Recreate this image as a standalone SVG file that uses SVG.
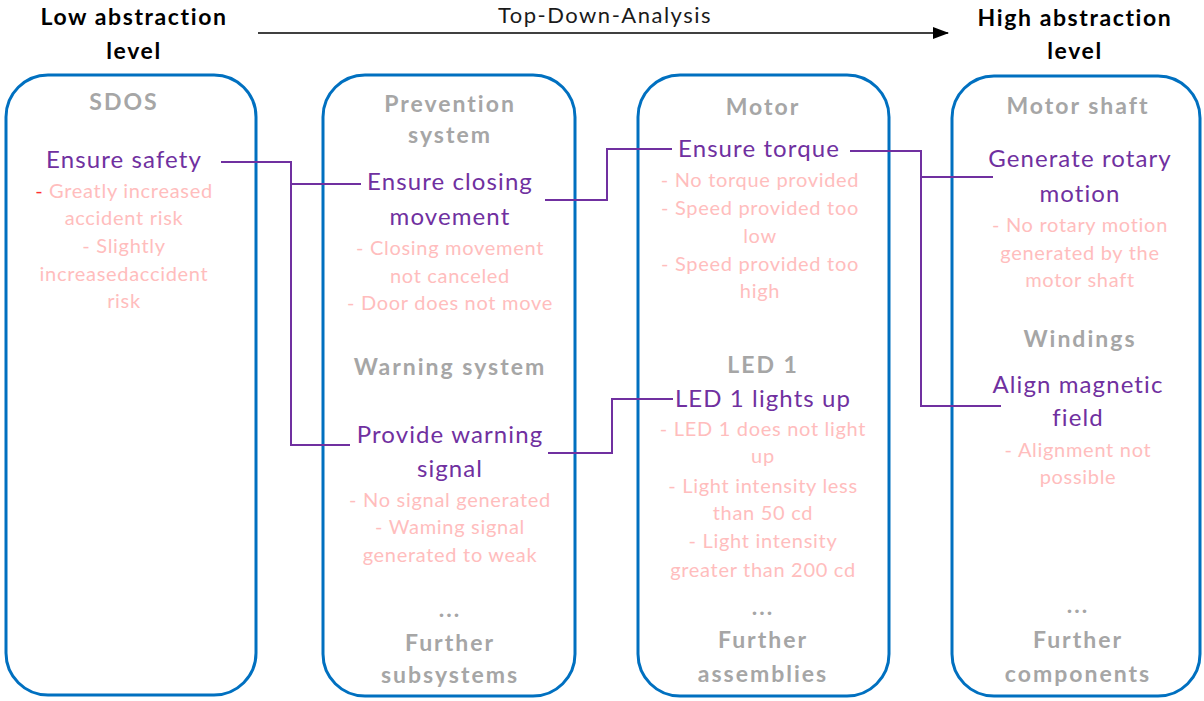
<svg xmlns="http://www.w3.org/2000/svg" width="1204" height="701" viewBox="0 0 1204 701">
  <style>
    text { font-family: Lato, "Liberation Sans", sans-serif; text-anchor: middle; }
    .hdr { font-size: 23px; font-weight: bold; fill: #000000; letter-spacing: 1.6px; }
    .axis { font-size: 22px; fill: #1a1a1a; letter-spacing: 1.5px; }
    .box { fill: #ffffff; stroke: #0070C0; stroke-width: 3; }
    .ttl { font-size: 23px; font-weight: bold; fill: #A6A6A6; letter-spacing: 2px; }
    .fn { font-size: 24px; fill: #7030A0; letter-spacing: 1.1px; }
    .fm { font-size: 20px; fill: #FFBDBD; letter-spacing: 0.7px; }
    .link { fill: none; stroke: #7030A0; stroke-width: 2; }
  </style>
  <defs>
    <marker id="arrowHead" viewBox="0 0 16 12" refX="15" refY="6" markerWidth="16" markerHeight="12" markerUnits="userSpaceOnUse" orient="auto">
      <path d="M0,0 L16,6 L0,12 Z" fill="#000000"/>
    </marker>
  </defs>

  <rect width="1204" height="701" fill="#ffffff"/>

  <!-- axis header -->
  <g id="axis">
    <text class="hdr" x="134" y="25">Low abstraction</text>
    <text class="hdr" x="134" y="59">level</text>
    <text class="axis" x="605" y="23">Top-Down-Analysis</text>
    <line x1="258" y1="33" x2="948" y2="33" stroke="#000000" stroke-width="1.5" marker-end="url(#arrowHead)"/>
    <text class="hdr" x="1075" y="26">High abstraction</text>
    <text class="hdr" x="1075" y="59">level</text>
  </g>

  <!-- system level -->
  <g id="sdos">
    <rect class="box" x="6" y="75" width="250" height="620" rx="42"/>
    <text class="ttl" x="124" y="110">SDOS</text>
    <text class="fn" x="124" y="168">Ensure safety</text>
    <text class="fm" x="124" y="198"><tspan fill="#FF3030">-</tspan> Greatly increased</text>
    <text class="fm" x="124" y="225">accident risk</text>
    <text class="fm" x="124" y="253">- Slightly</text>
    <text class="fm" x="124" y="281">increasedaccident</text>
    <text class="fm" x="124" y="308">risk</text>
  </g>

  <!-- subsystem level -->
  <g id="subsystems">
    <rect class="box" x="323" y="75" width="252" height="621" rx="42"/>
    <text class="ttl" x="450" y="112">Prevention</text>
    <text class="ttl" x="450" y="143">system</text>
    <text class="fn" x="450" y="190">Ensure closing</text>
    <text class="fn" x="450" y="225">movement</text>
    <text class="fm" x="450" y="255">- Closing movement</text>
    <text class="fm" x="450" y="283">not canceled</text>
    <text class="fm" x="450" y="310">- Door does not move</text>
    <text class="ttl" x="450" y="375">Warning system</text>
    <text class="fn" x="450" y="443">Provide warning</text>
    <text class="fn" x="450" y="477">signal</text>
    <text class="fm" x="450" y="507">- No signal generated</text>
    <text class="fm" x="450" y="534">- Waming signal</text>
    <text class="fm" x="450" y="562">generated to weak</text>
    <text class="ttl" x="450" y="617">...</text>
    <text class="ttl" x="450" y="651">Further</text>
    <text class="ttl" x="450" y="683">subsystems</text>
  </g>

  <!-- assembly level -->
  <g id="assemblies">
    <rect class="box" x="638" y="75" width="251" height="621" rx="42"/>
    <text class="ttl" x="763" y="115">Motor</text>
    <text class="fn" x="759" y="157">Ensure torque</text>
    <text class="fm" x="760" y="187">- No torque provided</text>
    <text class="fm" x="760" y="215">- Speed provided too</text>
    <text class="fm" x="760" y="243">low</text>
    <text class="fm" x="760" y="271">- Speed provided too</text>
    <text class="fm" x="760" y="298">high</text>
    <text class="ttl" x="763" y="373">LED 1</text>
    <text class="fn" x="763" y="407">LED 1 lights up</text>
    <text class="fm" x="763" y="436">- LED 1 does not light</text>
    <text class="fm" x="763" y="463">up</text>
    <text class="fm" x="763" y="493">- Light intensity less</text>
    <text class="fm" x="763" y="520">than 50 cd</text>
    <text class="fm" x="763" y="548">- Light intensity</text>
    <text class="fm" x="763" y="577">greater than 200 cd</text>
    <text class="ttl" x="763" y="615">...</text>
    <text class="ttl" x="763" y="648">Further</text>
    <text class="ttl" x="763" y="682">assemblies</text>
  </g>

  <!-- component level -->
  <g id="components">
    <rect class="box" x="952" y="76" width="248" height="620" rx="42"/>
    <text class="ttl" x="1078" y="114">Motor shaft</text>
    <text class="fn" x="1080" y="167">Generate rotary</text>
    <text class="fn" x="1080" y="202">motion</text>
    <text class="fm" x="1080" y="232">- No rotary motion</text>
    <text class="fm" x="1080" y="260">generated by the</text>
    <text class="fm" x="1080" y="287">motor shaft</text>
    <text class="ttl" x="1080" y="347">Windings</text>
    <text class="fn" x="1078" y="393">Align magnetic</text>
    <text class="fn" x="1078" y="426">field</text>
    <text class="fm" x="1078" y="457">- Alignment not</text>
    <text class="fm" x="1078" y="484">possible</text>
    <text class="ttl" x="1078" y="613">...</text>
    <text class="ttl" x="1078" y="648">Further</text>
    <text class="ttl" x="1078" y="682">components</text>
  </g>

  <!-- function decomposition links -->
  <g id="connectors">
    <path class="link" d="M221,162 H291 V445 H350"/>
    <path class="link" d="M291,184 H361"/>
    <path class="link" d="M545,200 H607 V149 H672"/>
    <path class="link" d="M548,453 H612 V399 H673"/>
    <path class="link" d="M850,151 H921 V406 H1001"/>
    <path class="link" d="M921,177 H993"/>
  </g>
</svg>
